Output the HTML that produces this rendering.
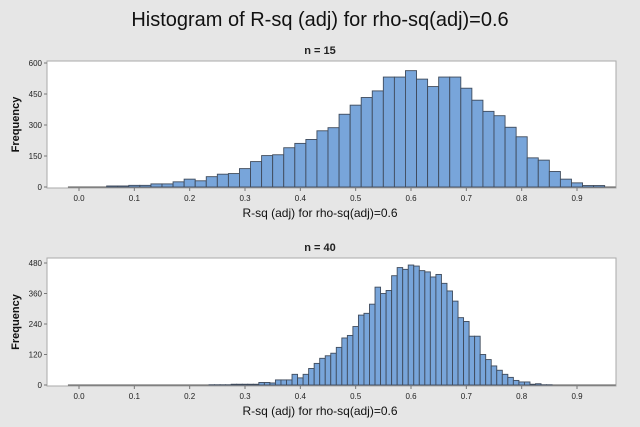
<!DOCTYPE html>
<html><head><meta charset="utf-8"><style>
html,body{margin:0;padding:0;background:#e6e6e6;}
svg{display:block;font-family:"Liberation Sans",sans-serif;}
</style></head><body>
<svg id="c" width="640" height="427" viewBox="0 0 640 427" xmlns="http://www.w3.org/2000/svg">
<rect width="640" height="427" fill="#e6e6e6"/>
<text x="320" y="26" text-anchor="middle" font-size="20" fill="#111">Histogram of R-sq (adj) for rho-sq(adj)=0.6</text>
</svg>
<script>
const topCenters = [0.06,0.08,0.10,0.12,0.14,0.16,0.18,0.20,0.22,0.24,0.26,0.28,0.30,0.32,0.34,0.36,0.38,0.40,0.42,0.44,0.46,0.48,0.50,0.52,0.54,0.56,0.58,0.60,0.62,0.64,0.66,0.68,0.70,0.72,0.74,0.76,0.78,0.80,0.82,0.84,0.86,0.88,0.90,0.92,0.94];
const topCounts = [5,5,8,8,15,15,25,38,30,50,62,65,89,123,152,156,190,211,230,272,287,352,396,433,465,532,532,563,522,486,532,532,478,420,366,345,289,243,141,130,75,38,20,7,7];
const topYTicks = [0,150,300,450,600];
const botCenters = [0.24,0.25,0.26,0.27,0.28,0.29,0.30,0.31,0.32,0.33,0.34,0.35,0.36,0.37,0.38,0.39,0.40,0.41,0.42,0.43,0.44,0.45,0.46,0.47,0.48,0.49,0.50,0.51,0.52,0.53,0.54,0.55,0.56,0.57,0.58,0.59,0.60,0.61,0.62,0.63,0.64,0.65,0.66,0.67,0.68,0.69,0.70,0.71,0.72,0.73,0.74,0.75,0.76,0.77,0.78,0.79,0.80,0.81,0.82,0.83,0.84,0.85];
const botCounts = [1,1,1,1,3,3,3,3,3,10,10,8,20,20,20,42,28,42,65,85,105,115,125,148,185,195,230,275,282,318,385,360,372,430,462,455,472,468,450,445,425,435,400,370,330,265,250,192,192,120,100,75,58,42,30,18,12,12,3,5,1,1];
const botYTicks = [0,120,240,360,480];
const xTicks = [0.0,0.1,0.2,0.3,0.4,0.5,0.6,0.7,0.8,0.9];
const xTickLabels = ["0.0","0.1","0.2","0.3","0.4","0.5","0.6","0.7","0.8","0.9"];

const NS="http://www.w3.org/2000/svg";
const svg=document.getElementById('c');
function mk(tag,attrs,parent){const e=document.createElementNS(NS,tag);for(const k in attrs)e.setAttribute(k,attrs[k]);(parent||svg).appendChild(e);return e;}

function panel(cfg){
  const g=mk('g',{});
  
  
  const L=47,R=616,T=cfg.top,B=cfg.bottom,y0=cfg.zeroY,yMax=cfg.maxY;
  const xs=v=>79+(v-0)*(577-79)/0.9;
  const ys=v=>y0-(v/cfg.yMaxVal)*(y0-yMax);
  const st=mk('text',{x:320,y:cfg.subY,'text-anchor':'middle','font-size':11,'font-weight':'bold',fill:'#222'},g);
  st.textContent=cfg.sub;
  
  
  const fr=mk('rect',{x:L,y:T,width:R-L,height:B-T,fill:'#fff',stroke:'#aaa','stroke-width':1},g);
  
  
  mk('line',{x1:cfg.lineFrom?xs(cfg.lineFrom):xs(0),x2:xs(cfg.lineTo),y1:y0,y2:y0,stroke:'#555','stroke-width':1},g);
  cfg.centers.forEach((c,i)=>{
    const x1=xs(c-cfg.w/2),x2=xs(c+cfg.w/2),yt=ys(cfg.counts[i]);
    const r=mk('rect',{x:x1,y:yt,width:x2-x1,height:y0-yt,fill:'#78a5da',stroke:'#3f4b5c','stroke-width':0.9},g);
    
    
  });
  cfg.yTicks.forEach(v=>{
    const y=ys(v);
    mk('line',{x1:L-3,x2:L,y1:y,y2:y,stroke:'#777'},g);
    const t=mk('text',{x:L-5,y:y+3,'text-anchor':'end','font-size':8,fill:'#222'},g);
    t.textContent=v;
    
    
  });
  xTicks.forEach((v,i)=>{
    const x=xs(v);
    mk('line',{x1:x,x2:x,y1:B,y2:B+3,stroke:'#777'},g);
    const t=mk('text',{x:x,y:B+13,'text-anchor':'middle','font-size':8,fill:'#222'},g);
    t.textContent=xTickLabels[i];
    
    
  });
  const xl=mk('text',{x:320,y:B+29,'text-anchor':'middle','font-size':12,fill:'#111'},g);
  xl.textContent='R-sq (adj) for rho-sq(adj)=0.6';
  
  
  const yc=(T+B)/2;
  const yl=mk('text',{x:19,y:yc,'text-anchor':'middle','font-size':11,'font-weight':'bold',fill:'#111',transform:`rotate(-90 19 ${yc})`},g);
  yl.textContent='Frequency';
  
  
}
panel({name:'panel-n15',sub:'n = 15',subY:54,top:61,bottom:188,zeroY:187,maxY:63,yMaxVal:600,centers:topCenters,counts:topCounts,w:0.02,yTicks:topYTicks,lineFrom:-0.02,lineTo:0.97});
panel({name:'panel-n40',sub:'n = 40',subY:251,top:258,bottom:386,zeroY:385,maxY:263,yMaxVal:480,centers:botCenters,counts:botCounts,w:0.01,yTicks:botYTicks,lineFrom:-0.02,lineTo:0.97});
</script>
</body></html>
